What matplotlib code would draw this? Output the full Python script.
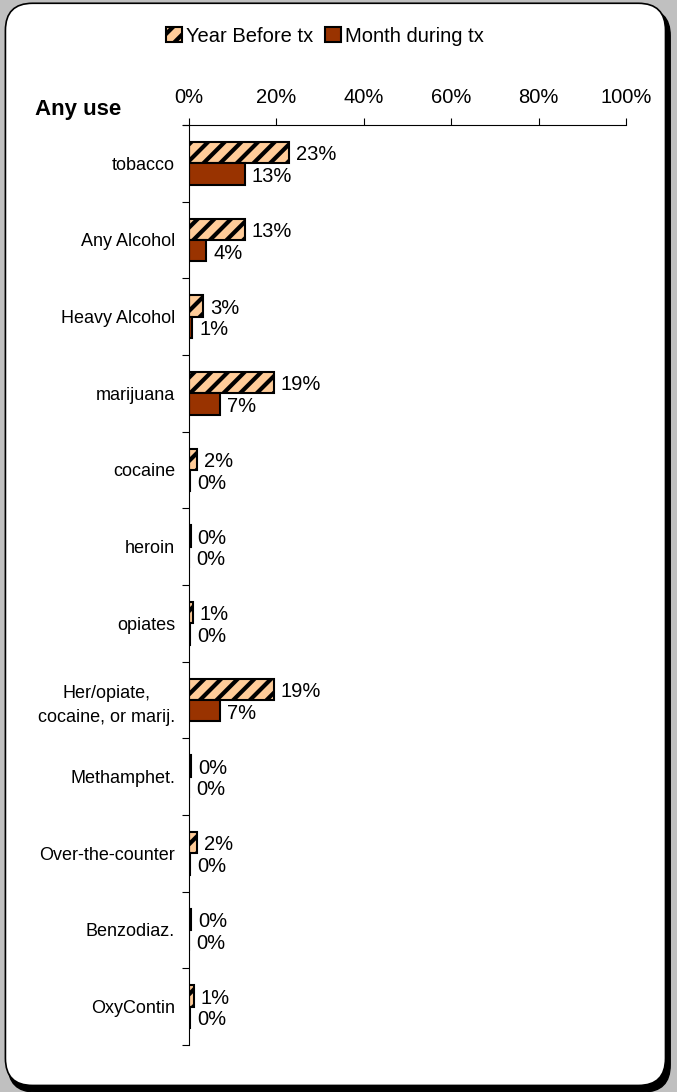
import matplotlib
matplotlib.use('Agg')
import matplotlib.pyplot as plt
from matplotlib.patches import FancyBboxPatch, Patch

plt.rcParams['font.family'] = ['Liberation Sans', 'DejaVu Sans']
plt.rcParams['hatch.linewidth'] = 3.0

categories = ['tobacco', 'Any Alcohol', 'Heavy Alcohol', 'marijuana', 'cocaine',
              'heroin', 'opiates', 'Her/opiate,\ncocaine, or marij.', 'Methamphet.',
              'Over-the-counter', 'Benzodiaz.', 'OxyContin']
year_before = [22.9, 12.8, 3.2, 19.4, 1.8, 0.4, 0.9, 19.4, 0.5, 1.8, 0.5, 1.1]
month_during = [12.8, 3.9, 0.7, 7.1, 0.2, 0.1, 0.2, 7.1, 0.1, 0.2, 0.1, 0.2]

fig = plt.figure(figsize=(6.77, 10.92), dpi=100)
fig.patch.set_facecolor('#c0c0c0')

# rounded frame with shadow
shadow = FancyBboxPatch((0.012, 0.0), 0.978, 0.992, boxstyle='round,pad=0,rounding_size=0.04',
                        transform=fig.transFigure, facecolor='black', edgecolor='black',
                        mutation_aspect=677 / 1092, zorder=0)
frame = FancyBboxPatch((0.008, 0.006), 0.975, 0.991, boxstyle='round,pad=0,rounding_size=0.04',
                       transform=fig.transFigure, facecolor='white', edgecolor='black', lw=1.2,
                       mutation_aspect=677 / 1092, zorder=1)
fig.patches.extend([shadow, frame])

ax = fig.add_axes([189 / 677, 1 - 1045 / 1092, 437 / 677, 920 / 1092])
ax.set_zorder(2)
ax.patch.set_alpha(0)

n = len(categories)
h = 0.28
ys = list(range(n))
ax.barh([y - h / 2 for y in ys], year_before, height=h, color='#ffcc99', edgecolor='black',
        hatch='//', lw=1.5)
ax.barh([y + h / 2 for y in ys], month_during, height=h, color='#993300', edgecolor='black', lw=1.5)

for y, v in zip(ys, year_before):
    ax.text(v + 1.6, y - h / 2 + 0.03, f'{round(v)}%', va='center', ha='left', fontsize=14.5)
for y, v in zip(ys, month_during):
    ax.text(v + 1.6, y + h / 2 + 0.03, f'{round(v)}%', va='center', ha='left', fontsize=14.5)

ax.set_xlim(0, 100)
ax.set_ylim(n - 0.5, -0.5)
ax.xaxis.tick_top()
ax.set_xticks([0, 20, 40, 60, 80, 100])
ax.set_xticklabels(['0%', '20%', '40%', '60%', '80%', '100%'], fontsize=14.5)
ax.tick_params(axis='x', length=5, width=0.8, pad=8)
ax.set_yticks(ys)
ax.set_yticklabels(categories, fontsize=13)
ax.set_yticks([y - 0.5 for y in range(n + 1)], minor=True)
ax.tick_params(axis='y', which='major', length=0, pad=10)
ax.tick_params(axis='y', which='minor', length=5, width=0.8)
for lab in ax.get_yticklabels():
    lab.set_multialignment('center')
    lab.set_linespacing(1.5)
ax.spines['right'].set_visible(False)
ax.spines['bottom'].set_visible(False)
ax.spines['top'].set_bounds(-1.4, 100)
ax.spines['top'].set_linewidth(0.8)
ax.spines['left'].set_linewidth(0.8)

fig.text(35 / 677, 1 - 110 / 1092, 'Any use', fontsize=16, fontweight='bold', va='center', zorder=3)

handles = [Patch(facecolor='#ffcc99', edgecolor='black', hatch='//', lw=1.5),
           Patch(facecolor='#993300', edgecolor='black', lw=1.5)]
leg = fig.legend(handles, ['Year Before tx', 'Month during tx'], loc='center',
                 bbox_to_anchor=(0.48, 1 - 36 / 1092), ncol=2, frameon=False, fontsize=14.5,
                 handlelength=0.8, handleheight=0.8, handletextpad=0.2, columnspacing=0.55)
leg.set_zorder(3)

fig.savefig('out.png', dpi=100, facecolor=fig.get_facecolor())
